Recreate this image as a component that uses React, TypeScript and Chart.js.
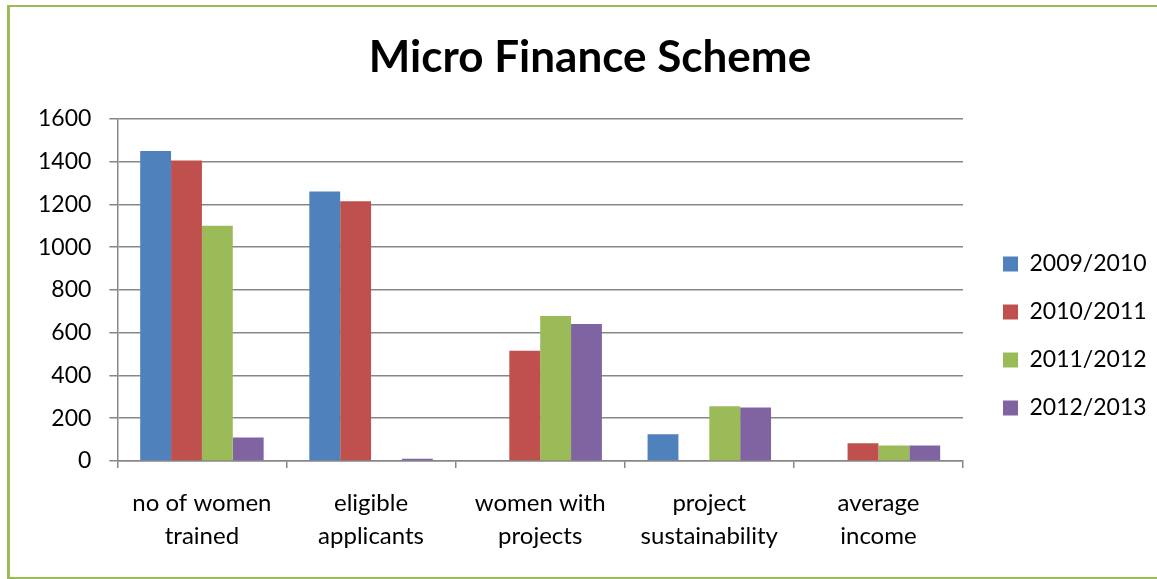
import React, { useEffect, useRef } from 'react';
import { Chart, registerables } from 'chart.js';

Chart.register(...registerables);

const chartTitle = 'Micro Finance Scheme';
const categories: string[][] = [
  ['no of women', 'trained'],
  ['eligible', 'applicants'],
  ['women with', 'projects'],
  ['project', 'sustainability'],
  ['average', 'income'],
];
const seriesNames = ['2009/2010', '2010/2011', '2011/2012', '2012/2013'];
const values2009 = [1450, 1260, 0, 125, 0];
const values2010 = [1405, 1215, 515, 0, 83];
const values2011 = [1100, 0, 678, 256, 72];
const values2012 = [110, 10, 640, 250, 72];
const seriesColors = ['#4F81BD', '#C0504D', '#9BBB59', '#8064A2'];
const yTickValues = [0, 200, 400, 600, 800, 1000, 1200, 1400, 1600];

const LEGEND_WIDTH = 177;
const LEGEND_SHIFT_X = 15;
const LEGEND_SHIFT_Y = 45;

const legendPlacement = {
  id: 'legendPlacement',
  beforeLayout(chart: any) {
    const lg = chart.legend;
    if (lg && !lg._patchedFit) {
      const orig = lg.fit.bind(lg);
      lg.fit = function () {
        orig();
        this.width = LEGEND_WIDTH;
      };
      lg._patchedFit = true;
    }
  },
  afterLayout(chart: any) {
    const lg = chart.legend;
    if (lg) {
      lg.left += LEGEND_SHIFT_X;
      lg.right += LEGEND_SHIFT_X;
      lg.top += LEGEND_SHIFT_Y;
      lg.bottom += LEGEND_SHIFT_Y;
    }
  },
};

export default function App() {
  const canvasRef = useRef<HTMLCanvasElement | null>(null);

  useEffect(() => {
    if (!canvasRef.current) return;
    const allValues = [values2009, values2010, values2011, values2012];
    const gridColor = '#878787';
    const chart = new Chart(canvasRef.current, {
      type: 'bar',
      data: {
        labels: categories,
        datasets: seriesNames.map((name, i) => ({
          label: name,
          data: allValues[i],
          backgroundColor: seriesColors[i],
          borderWidth: 0,
          categoryPercentage: 0.73,
          barPercentage: 1,
        })),
      },
      options: {
        responsive: false,
        animation: false,
        layout: { padding: { left: 40, right: 17, top: 10, bottom: 7 } },
        plugins: {
          title: {
            display: true,
            text: chartTitle,
            color: '#000',
            font: { family: 'Lato', size: 44, weight: 'bold' },
            padding: { top: 21, bottom: 35 },
          },
          legend: {
            display: true,
            position: 'right',
            labels: {
              color: '#000',
              font: { family: 'Lato', size: 23 },
              boxWidth: 15,
              boxHeight: 15,
              padding: 25,
            },
          },
          tooltip: { enabled: false },
        },
        scales: {
          x: {
            grid: {
              display: true,
              drawOnChartArea: false,
              drawTicks: true,
              tickLength: 7,
              color: gridColor,
              lineWidth: 1.5,
              offset: true,
            },
            border: { display: true, color: gridColor, width: 1.5 },
            ticks: {
              color: '#000',
              font: { family: 'Lato', size: 24, lineHeight: 1.375 },
              padding: 19,
              autoSkip: false,
              maxRotation: 0,
            },
          },
          y: {
            min: 0,
            max: 1600,
            afterBuildTicks: (scale: any) => {
              scale.ticks = yTickValues.map((v) => ({ value: v }));
            },
            afterFit: (scale: any) => {
              scale.width -= 20;
            },
            grid: {
              color: gridColor,
              lineWidth: 1.5,
              drawTicks: true,
              tickLength: 8,
            },
            border: { display: true, color: gridColor, width: 1.5 },
            ticks: {
              color: '#000',
              font: { family: 'Lato', size: 23 },
              padding: 18,
              callback: (v: any) => String(v),
            },
          },
        },
      },
      plugins: [legendPlacement],
    });
    return () => chart.destroy();
  }, []);

  const green = '#9BBB59';
  return (
    <div style={{ position: 'fixed', left: 0, top: 0, width: 1157, height: 579, background: '#fff', overflow: 'hidden' }}>
      <div style={{ position: 'absolute', left: 7, top: 5, width: 3, height: 574, background: green }} />
      <div style={{ position: 'absolute', left: 7, top: 5, width: 1150, height: 2, background: green }} />
      <div style={{ position: 'absolute', left: 7, top: 577, width: 1150, height: 2, background: green }} />
      <canvas ref={canvasRef} width={1157} height={579} style={{ position: 'absolute', left: 0, top: 0 }} />
    </div>
  );
}
